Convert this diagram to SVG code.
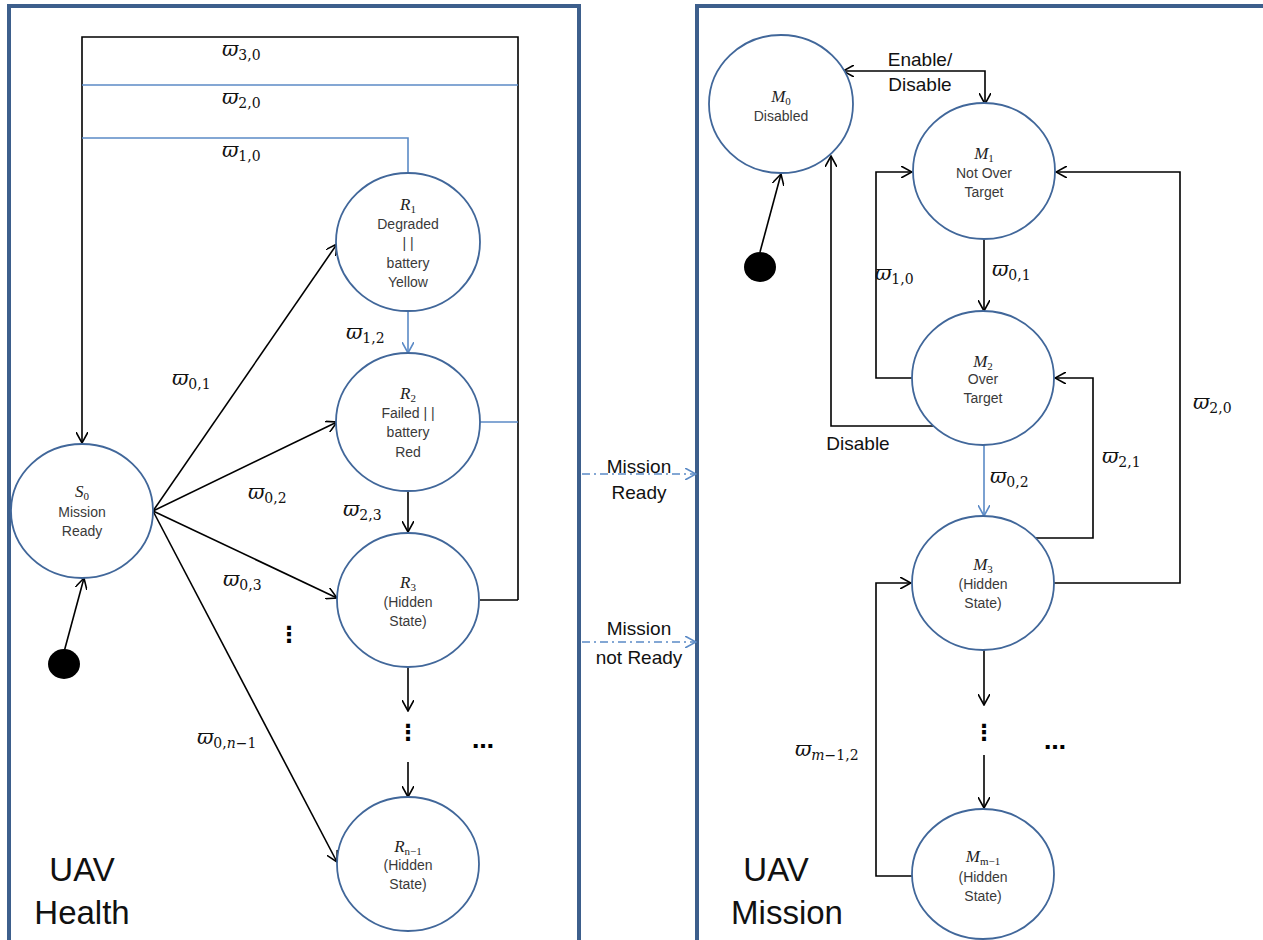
<svg xmlns="http://www.w3.org/2000/svg" width="1263" height="940" viewBox="0 0 1263 940">
<defs>
<marker id="ah" viewBox="0 0 12 12" refX="11" refY="6" markerWidth="12" markerHeight="12" markerUnits="userSpaceOnUse" orient="auto">
<path d="M0,0 L11,6 L0,12" fill="none" stroke="#000" stroke-width="1.6"/>
</marker>
<marker id="ahb" viewBox="0 0 12 12" refX="11" refY="6" markerWidth="12" markerHeight="12" markerUnits="userSpaceOnUse" orient="auto">
<path d="M0,0 L11,6 L0,12" fill="none" stroke="#5B8AC6" stroke-width="1.6"/>
</marker>
</defs>
<style>
.frame{fill:none;stroke:#3D5F8C;stroke-width:4}
.st{fill:#fff;stroke:#41679A;stroke-width:1.8}
.k{fill:none;stroke:#000;stroke-width:1.6}
.b{fill:none;stroke:#5B8AC6;stroke-width:1.6}
.dd{fill:none;stroke:#5B8AC6;stroke-width:1.6;stroke-dasharray:8 4 2 4}
.nt{font-family:"Liberation Sans",Arial,sans-serif;font-size:14px;fill:#3a3a3a;text-anchor:middle}
.ns{font-family:"Liberation Serif","DejaVu Serif",serif;font-style:italic;font-size:17px;fill:#222;text-anchor:middle}
.sub{font-size:11px;font-style:normal}
.w{font-family:"DejaVu Serif",serif;font-style:italic;font-size:20px;fill:#111}
.ws{font-family:"DejaVu Serif",serif;font-style:normal;font-size:14px}
.lb{font-family:"Liberation Sans",Arial,sans-serif;font-size:19px;fill:#111;text-anchor:middle}
.big{font-family:"Liberation Sans",Arial,sans-serif;font-size:33px;fill:#111;text-anchor:middle}
.dots{font-family:"DejaVu Sans",sans-serif;font-size:22px;font-weight:bold;fill:#000;text-anchor:middle}
</style>

<g id="frames">
<path class="frame" d="M9,942 V6 H579 V942"/>
<path class="frame" d="M697,942 V6 H1265"/>
</g>

<g id="connectors">
<path class="k" d="M518,600 V37 H82 V443" marker-end="url(#ah)"/>
<path class="k" d="M480,600 H518"/>
<path class="b" d="M82,85 H518"/>
<path class="b" d="M480,422 H518"/>
<path class="b" d="M82,138 H408 V173"/>
<path class="k" d="M64,652 L84,578" marker-end="url(#ah)"/>
<path class="k" d="M153,511 L337,244" marker-end="url(#ah)"/>
<path class="k" d="M153,511 L337,422" marker-end="url(#ah)"/>
<path class="k" d="M153,511 L337,598" marker-end="url(#ah)"/>
<path class="k" d="M153,511 L337,862" marker-end="url(#ah)"/>
<path class="b" d="M408,312 V353" marker-end="url(#ahb)"/>
<path class="k" d="M408,491 V532" marker-end="url(#ah)"/>
<path class="k" d="M408,667 V711" marker-end="url(#ah)"/>
<path class="k" d="M408,762 V797" marker-end="url(#ah)"/>
<path class="dd" d="M582,474 H696" marker-end="url(#ahb)"/>
<path class="dd" d="M582,642 H696" marker-end="url(#ahb)"/>
<path class="k" d="M760,252 L781,174" marker-end="url(#ah)"/>
<path class="k" d="M900,71 H843" marker-end="url(#ah)"/>
<path class="k" d="M900,71 H985 V104" marker-end="url(#ah)"/>
<path class="k" d="M912,378 H876 V172 H912" marker-end="url(#ah)"/>
<path class="k" d="M934,426 H831 V156" marker-end="url(#ah)"/>
<path class="k" d="M984,239 V311" marker-end="url(#ah)"/>
<path class="b" d="M984,445 V516" marker-end="url(#ahb)"/>
<path class="k" d="M1033,538 H1093 V378 H1055" marker-end="url(#ah)"/>
<path class="k" d="M1054,583 H1180 V172 H1056" marker-end="url(#ah)"/>
<path class="k" d="M912,876 H876 V583 H911" marker-end="url(#ah)"/>
<path class="k" d="M984,650 V705" marker-end="url(#ah)"/>
<path class="k" d="M984,755 V808" marker-end="url(#ah)"/>
</g>

<g id="S0">
<ellipse class="st" cx="82" cy="511" rx="71" ry="67"/>
<text class="ns" x="82" y="497">S<tspan class="sub" dy="3">0</tspan></text>
<text class="nt" x="82" y="517">Mission</text>
<text class="nt" x="82" y="536">Ready</text>
</g>
<g id="start-left"><ellipse cx="64" cy="664" rx="16" ry="15" fill="#000"/></g>

<g id="R1">
<ellipse class="st" cx="408" cy="242" rx="72" ry="69"/>
<text class="ns" x="408" y="210">R<tspan class="sub" dy="3">1</tspan></text>
<text class="nt" x="408" y="229">Degraded</text>
<text class="nt" x="408" y="248">| |</text>
<text class="nt" x="408" y="268">battery</text>
<text class="nt" x="408" y="287">Yellow</text>
</g>
<g id="R2">
<ellipse class="st" cx="408" cy="422" rx="72" ry="69"/>
<text class="ns" x="408" y="399">R<tspan class="sub" dy="3">2</tspan></text>
<text class="nt" x="408" y="418">Failed | |</text>
<text class="nt" x="408" y="437">battery</text>
<text class="nt" x="408" y="457">Red</text>
</g>
<g id="R3">
<ellipse class="st" cx="408" cy="600" rx="71" ry="67"/>
<text class="ns" x="408" y="588">R<tspan class="sub" dy="3">3</tspan></text>
<text class="nt" x="408" y="607">(Hidden</text>
<text class="nt" x="408" y="626">State)</text>
</g>
<g id="Rn1">
<ellipse class="st" cx="408" cy="864" rx="71" ry="67"/>
<text class="ns" x="408" y="852">R<tspan class="sub" dy="3">n−1</tspan></text>
<text class="nt" x="408" y="870">(Hidden</text>
<text class="nt" x="408" y="889">State)</text>
</g>

<g id="M0">
<ellipse class="st" cx="781" cy="104" rx="72" ry="69"/>
<text class="ns" x="781" y="102">M<tspan class="sub" dy="3">0</tspan></text>
<text class="nt" x="781" y="121">Disabled</text>
</g>
<g id="start-right"><ellipse cx="760" cy="267" rx="16" ry="15" fill="#000"/></g>
<g id="M1">
<ellipse class="st" cx="984" cy="171" rx="71" ry="68"/>
<text class="ns" x="984" y="159">M<tspan class="sub" dy="3">1</tspan></text>
<text class="nt" x="984" y="178">Not Over</text>
<text class="nt" x="984" y="197">Target</text>
</g>
<g id="M2">
<ellipse class="st" cx="983" cy="378" rx="71" ry="67"/>
<text class="ns" x="983" y="367">M<tspan class="sub" dy="3">2</tspan></text>
<text class="nt" x="983" y="384">Over</text>
<text class="nt" x="983" y="403">Target</text>
</g>
<g id="M3">
<ellipse class="st" cx="983" cy="583" rx="71" ry="67"/>
<text class="ns" x="983" y="570">M<tspan class="sub" dy="3">3</tspan></text>
<text class="nt" x="983" y="589">(Hidden</text>
<text class="nt" x="983" y="608">State)</text>
</g>
<g id="Mm1">
<ellipse class="st" cx="983" cy="874" rx="71" ry="65"/>
<text class="ns" x="983" y="862">M<tspan class="sub" dy="3">m−1</tspan></text>
<text class="nt" x="983" y="882">(Hidden</text>
<text class="nt" x="983" y="901">State)</text>
</g>

<g id="labels">
<text class="w" x="222" y="56">ϖ<tspan class="ws" dy="4">3,0</tspan></text>
<text class="w" x="222" y="104">ϖ<tspan class="ws" dy="4">2,0</tspan></text>
<text class="w" x="222" y="157">ϖ<tspan class="ws" dy="4">1,0</tspan></text>
<text class="w" x="346" y="339">ϖ<tspan class="ws" dy="4">1,2</tspan></text>
<text class="w" x="172" y="385">ϖ<tspan class="ws" dy="4">0,1</tspan></text>
<text class="w" x="248" y="499">ϖ<tspan class="ws" dy="4">0,2</tspan></text>
<text class="w" x="223" y="586">ϖ<tspan class="ws" dy="4">0,3</tspan></text>
<text class="w" x="343" y="516">ϖ<tspan class="ws" dy="4">2,3</tspan></text>
<text class="w" x="197" y="744">ϖ<tspan class="ws" dy="4">0,<tspan font-style="italic">n</tspan>−1</tspan></text>
<text class="dots" x="289" y="642">⋮</text>
<text class="dots" x="408" y="740">⋮</text>
<text class="dots" x="483" y="748">…</text>
<text class="big" x="82" y="881">UAV</text>
<text class="big" x="82" y="924">Health</text>
<text class="lb" x="639" y="473">Mission</text>
<text class="lb" x="639" y="499">Ready</text>
<text class="lb" x="639" y="635">Mission</text>
<text class="lb" x="639" y="664">not Ready</text>
<text class="lb" x="920" y="66">Enable/</text>
<text class="lb" x="920" y="91">Disable</text>
<text class="lb" x="858" y="450">Disable</text>
<text class="w" x="875" y="280">ϖ<tspan class="ws" dy="4">1,0</tspan></text>
<text class="w" x="992" y="276">ϖ<tspan class="ws" dy="4">0,1</tspan></text>
<text class="w" x="990" y="483">ϖ<tspan class="ws" dy="4">0,2</tspan></text>
<text class="w" x="1102" y="463">ϖ<tspan class="ws" dy="4">2,1</tspan></text>
<text class="w" x="1193" y="409">ϖ<tspan class="ws" dy="4">2,0</tspan></text>
<text class="w" x="795" y="756">ϖ<tspan class="ws" dy="4"><tspan font-style="italic">m</tspan>−1,2</tspan></text>
<text class="dots" x="984" y="740">⋮</text>
<text class="dots" x="1055" y="749">…</text>
<text class="big" x="776" y="881">UAV</text>
<text class="big" x="787" y="924">Mission</text>
</g>
</svg>
